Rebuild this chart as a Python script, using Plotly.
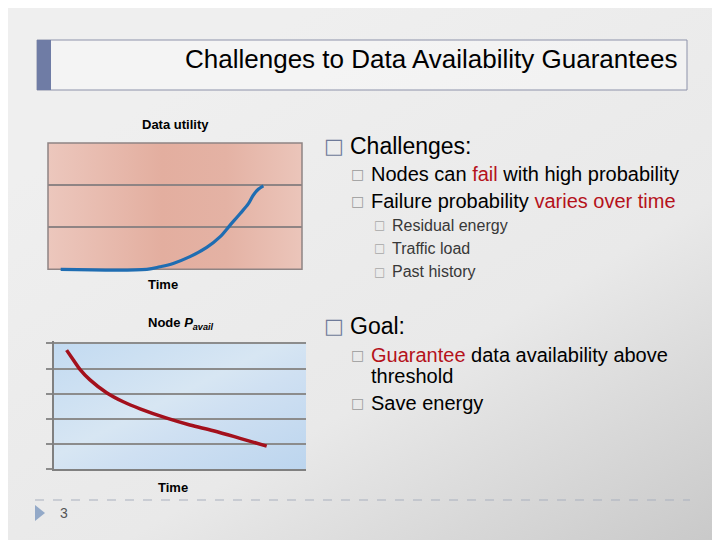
import base64
import plotly.graph_objects as go

W, H = 720, 540
OFF = 8  # the page body adds an 8px margin, so the figure is shrunk and shifted by that much
FW, FH = W - OFF, H - OFF

# top chart: data utility over time
utility_time = [0.5, 3.89, 4.41, 4.93, 5.59, 6.25, 6.77, 7.17, 7.56, 7.89, 8.08, 8.28, 8.48]
utility = [0, 0, 0.06, 0.14, 0.30, 0.52, 0.77, 1.05, 1.32, 1.56, 1.76, 1.90, 1.98]

# bottom chart: node availability probability over time
pavail_time = [0.5, 0.77, 1.03, 1.43, 2.09, 2.75, 3.42, 4.48, 5.40, 6.33, 7.39, 8.45]
pavail = [4.73, 4.34, 3.97, 3.55, 3.04, 2.68, 2.40, 2.03, 1.76, 1.53, 1.23, 0.92]

slide_title = "Challenges to Data Availability Guarantees"
red = "#B5121B"
challenge_items = [
    "Nodes can <span style='color:%s'>fail</span> with high probability" % red,
    "Failure probability <span style='color:%s'>varies over time</span>" % red,
]
failure_causes = ["Residual energy", "Traffic load", "Past history"]
goal_items = [
    "<span style='color:%s'>Guarantee</span> data availability above" % red,
    "threshold",
    "Save energy",
]
page_number = "3"


def px(x):
    return (x - OFF) / FW


def py(y):
    return 1 - (y - OFF) / FH


def gradient(stops, x1=0, y1=0, x2=1, y2=0):
    tags = "".join('<stop offset="%s" stop-color="%s"/>' % s for s in stops)
    svg = ('<svg xmlns="http://www.w3.org/2000/svg" width="100" height="100" '
           'viewBox="0 0 100 100" preserveAspectRatio="none"><defs>'
           '<linearGradient id="g" x1="%s" y1="%s" x2="%s" y2="%s">%s</linearGradient>'
           '</defs><rect width="100" height="100" fill="url(#g)"/></svg>') % (x1, y1, x2, y2, tags)
    return "data:image/svg+xml;base64," + base64.b64encode(svg.encode()).decode()


def image(src, x0, y0, x1, y1):
    return dict(source=src, xref="paper", yref="paper", x=px(x0), y=py(y0),
                sizex=(x1 - x0) / FW, sizey=(y1 - y0) / FH, sizing="stretch",
                xanchor="left", yanchor="top", layer="below")


fig = go.Figure()

fig.add_trace(go.Scatter(x=utility_time, y=utility, mode="lines", line_shape="spline",
                         line=dict(color="#1F6DB2", width=3.2), xaxis="x", yaxis="y",
                         showlegend=False, hoverinfo="skip"))
fig.add_trace(go.Scatter(x=pavail_time, y=pavail, mode="lines", line_shape="spline",
                         line=dict(color="#A3101C", width=3.5), xaxis="x2", yaxis="y2",
                         showlegend=False, hoverinfo="skip"))

images = [
    image(gradient([(0, "#EFEFEF"), (0.55, "#E9E9E9"), (1, "#C9C9C9")], 0.3, 0.1, 1, 1), OFF, OFF, W, H),
    image(gradient([(0, "#ECC7BD"), (0.45, "#E3AE9F"), (0.7, "#E4B2A4"), (1, "#EBC5BA")]), 48, 143, 302, 269),
    image(gradient([(0, "#C2DAF1"), (0.45, "#D7E6F3"), (0.6, "#CFE0F2"), (1, "#BCD5EE")], 0, 0, 1, 1),
          54, 343, 306, 469),
]

shapes = [
    # title box
    dict(type="rect", xref="paper", yref="paper", x0=px(37), x1=px(687), y0=py(40), y1=py(90),
         line=dict(color="#8D92AA", width=1), fillcolor="rgba(255,255,255,0.35)", layer="below"),
    dict(type="rect", xref="paper", yref="paper", x0=px(37), x1=px(51), y0=py(40), y1=py(90),
         line=dict(width=0), fillcolor="#6F7CA5", layer="below"),
    # top chart frame
    dict(type="rect", xref="paper", yref="paper", x0=px(48), x1=px(302), y0=py(143), y1=py(269.3),
         line=dict(color="#8F8484", width=1.5), layer="below"),
    # footer
    dict(type="line", xref="paper", yref="paper", x0=px(35), x1=px(690), y0=py(500), y1=py(500),
         line=dict(color="#A9B0BE", width=1, dash="dash")),
    dict(type="path", xref="paper", yref="paper",
         path="M %f %f L %f %f L %f %f Z" % (px(35), py(505), px(45), py(513), px(35), py(521)),
         fillcolor="#93A9C8", line=dict(width=0)),
]

font = "Liberation Sans, Arial, sans-serif"
ann = []


def text(t, x, y, size, color="#000000", anchor="left", bold=False, family=font):
    ann.append(dict(text="<b>%s</b>" % t if bold else t, x=px(x), y=py(y), xref="paper", yref="paper",
                    xanchor=anchor, yanchor="middle", showarrow=False,
                    font=dict(family=family, size=size, color=color)))


text(slide_title, 679, 59, 26, anchor="right")

text("Data utility", 175, 124, 13, anchor="center", bold=True)
text("Time", 163, 284, 13, anchor="center", bold=True)
text("Node <i>P</i><sub><i>avail</i></sub>", 180, 323, 13, anchor="center", bold=True)
text("Time", 173, 487, 13, anchor="center", bold=True)

box = "DejaVu Sans"
text("□", 322, 146, 21, color="#6E7A99", family=box)
text("Challenges:", 348, 146, 23)
for i, t in enumerate(challenge_items):
    y = 174 + 26.5 * i
    text("□", 349, y, 14, color="#9A9A9A", family=box)
    text(t, 369, y, 20)
for i, t in enumerate(failure_causes):
    y = 225 + 23.3 * i
    text("□", 372, y, 12, color="#A8A8A8", family=box)
    text(t, 390, y, 16, color="#383838")

text("□", 322, 326, 21, color="#6E7A99", family=box)
text("Goal:", 348, 326, 23)
goal_y = [355, 376, 403]
for t, y in zip(goal_items, goal_y):
    if t != "threshold":
        text("□", 349, y, 14, color="#9A9A9A", family=box)
    text(t, 369, y, 20)

text(page_number, 58, 513, 14, color="#555555")

hidden = dict(showgrid=False, zeroline=False, showticklabels=False, ticks="", showline=False)

fig.update_layout(
    width=FW, height=FH, margin=dict(l=0, r=0, t=0, b=0),
    paper_bgcolor="#EDEDED", plot_bgcolor="rgba(0,0,0,0)",
    images=images, shapes=shapes, annotations=ann,
    xaxis=dict(domain=[px(48), px(302)], range=[0, 10], fixedrange=True, **hidden),
    yaxis=dict(domain=[py(272.7), py(143)], range=[-0.081, 3], tickvals=[1, 2],
               showgrid=True, gridcolor="#8F8484", gridwidth=1.5, zeroline=False,
               showticklabels=False, ticks="", showline=False, fixedrange=True),
    xaxis2=dict(domain=[px(54), px(305.7)], range=[0, 10], anchor="y2", showgrid=False,
                zeroline=False, showticklabels=False, ticks="", showline=True,
                linecolor="#808080", linewidth=2, fixedrange=True),
    # range runs a little past 5 so that the top grid line is kept
    yaxis2=dict(domain=[py(469.3), py(340.8)], range=[0, 5.1], dtick=1, anchor="x2",
                showgrid=True, gridcolor="#8C8C8C", gridwidth=1.5, zeroline=False,
                showticklabels=False, ticks="outside", ticklen=6, tickwidth=1.5,
                tickcolor="#8C8C8C", showline=True, linecolor="#808080", linewidth=2,
                fixedrange=True),
)

fig.write_html("out.html")
